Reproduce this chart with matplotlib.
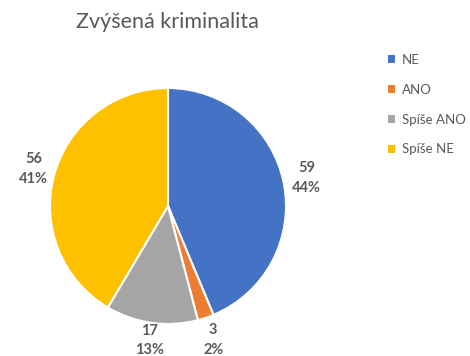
import numpy as np
import matplotlib.pyplot as plt
from matplotlib.patches import Patch

plt.rcParams['font.family'] = ['Lato', 'DejaVu Sans']

labels = ['NE', 'ANO', 'Spíše ANO', 'Spíše NE']
values = [59, 3, 17, 56]
colors = ['#4472C4', '#ED7D31', '#A5A5A5', '#FFC000']
txt = '#595959'

fig = plt.figure(figsize=(4.7, 3.56), dpi=100)
# pie axes: centre at (168, 206) px, radius 118 px
cx, cy, r = 168, 206, 118
ax = fig.add_axes([(cx - r) / 470, (356 - cy - r) / 356, 2 * r / 470, 2 * r / 356])
wedges, _ = ax.pie(values, colors=colors, startangle=90, counterclock=False,
                   wedgeprops=dict(edgecolor='white', linewidth=1.5))
ax.set_xlim(-1, 1)
ax.set_ylim(-1, 1)
ax.set_aspect('equal')

total = sum(values)
dists = [1.2, 1.2, 1.15, 1.18]
for w, v, d in zip(wedges, values, dists):
    ang = np.deg2rad((w.theta1 + w.theta2) / 2)
    x, y = d * np.cos(ang), d * np.sin(ang)
    ax.text(x, y, f'{v}\n{round(100 * v / total)}%', ha='center', va='center',
            fontsize=10.5, fontweight='bold', color=txt, linespacing=1.5,
            clip_on=False)

fig.text(167 / 470, 1 - 22 / 356, 'Zvýšená kriminalita', ha='center', va='center',
         fontsize=15.5, color=txt)

handles = [Patch(facecolor=c, edgecolor='none') for c in colors]
fig.legend(handles, labels, loc='upper left', bbox_to_anchor=(376 / 470, 1 - 42 / 356),
           frameon=False, fontsize=9.5, labelcolor=txt, handlelength=0.55,
           handleheight=0.55, handletextpad=0.5, labelspacing=1.35)

fig.savefig('out.png', dpi=100)
